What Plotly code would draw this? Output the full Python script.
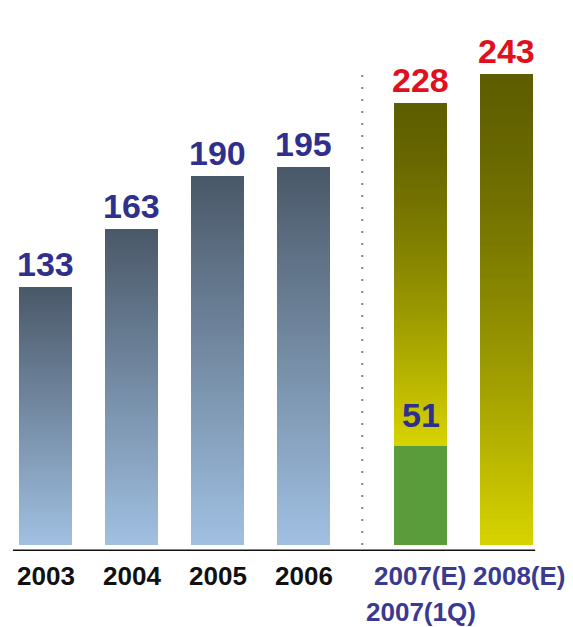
import plotly.graph_objects as go

# ---- data ----
years = ["2003", "2004", "2005", "2006", "2007(E)", "2008(E)"]
values = [133, 163, 190, 195, 228, 243]
is_forecast = [False, False, False, False, True, True]
q1_year = "2007(E)"
q1_label = "2007(1Q)"
q1_value = 51

# ---- style ----
FONT = "Liberation Sans, Arial, sans-serif"
SLATE_TOP = (74, 88, 104)
SLATE_BOT = (160, 192, 226)
OLIVE_TOP = (94, 94, 0)
OLIVE_BOT = (216, 212, 0)
GREEN = "#5a9b3c"
VAL_BLUE = "#2f2f8c"
VAL_RED = "#e0101c"
AXIS_BLUE = "#3a3a90"
BAR_W = 0.62
FORECAST_GAP = 0.36
N_SEG = 90

x_pos = [i + (FORECAST_GAP if f else 0) for i, f in enumerate(is_forecast)]
q1_idx = years.index(q1_year)
lows = [q1_value if i == q1_idx else 0 for i in range(len(years))]


def mix(a, b, t):
    return "rgb(%d,%d,%d)" % tuple(round(a[j] + (b[j] - a[j]) * t) for j in range(3))


fig = go.Figure()

# gradient-filled bars built from stacked slices of each bar's own value
for k in range(N_SEG):
    t0 = k / N_SEG
    t_end = min((k + 2) / N_SEG, 1.0)
    t_mid = (k + 0.5) / N_SEG
    bases, heights, colors = [], [], []
    for i in range(len(years)):
        lo, hi = lows[i], values[i]
        bases.append(lo + (hi - lo) * t0)
        heights.append((hi - lo) * (t_end - t0))
        if is_forecast[i]:
            u = 1 - t_mid
            colors.append(mix(OLIVE_TOP, OLIVE_BOT, u ** 1.4))
        else:
            colors.append(mix(SLATE_BOT, SLATE_TOP, t_mid))
    fig.add_trace(go.Bar(
        x=x_pos, y=heights, base=bases, width=BAR_W,
        marker=dict(color=colors, line=dict(width=0)),
        showlegend=False, hoverinfo="skip",
    ))

# 2007 first-quarter part
fig.add_trace(go.Bar(
    x=[x_pos[q1_idx]], y=[q1_value], base=[0], width=BAR_W,
    marker=dict(color=GREEN, line=dict(width=0)),
    showlegend=False, hoverinfo="skip",
))

annotations = []
# value labels
for i, (xv, v) in enumerate(zip(x_pos, values)):
    annotations.append(dict(
        x=xv, y=v, xref="x", yref="y", text="<b>%d</b>" % v,
        showarrow=False, yanchor="bottom", yshift=2,
        font=dict(family=FONT, size=34, color=VAL_RED if is_forecast[i] else VAL_BLUE),
    ))
annotations.append(dict(
    x=x_pos[q1_idx], y=q1_value, xref="x", yref="y", text="<b>%d</b>" % q1_value,
    showarrow=False, yanchor="bottom", yshift=10,
    font=dict(family=FONT, size=34, color=VAL_BLUE),
))

# category labels
for i, (xv, yr) in enumerate(zip(x_pos, years)):
    annotations.append(dict(
        x=xv, y=0, xref="x", yref="paper", text="<b>%s</b>" % yr,
        showarrow=False, yanchor="top", yshift=-8,
        xshift=13 if i == len(years) - 1 else 0,
        font=dict(family=FONT, size=26, color=AXIS_BLUE if is_forecast[i] else "#111111"),
    ))
annotations.append(dict(
    x=x_pos[q1_idx], y=0, xref="x", yref="paper", text="<b>%s</b>" % q1_label,
    showarrow=False, yanchor="top", yshift=-44,
    font=dict(family=FONT, size=26, color=AXIS_BLUE),
))

sep_x = (x_pos[3] + x_pos[4]) / 2
shapes = [
    dict(type="line", xref="x", yref="y", x0=sep_x, x1=sep_x, y0=0, y1=245,
         line=dict(color="#808080", width=2, dash="2px,10px")),
    dict(type="line", xref="x", yref="y", x0=x_pos[0] - 0.38, x1=x_pos[-1] + 0.33,
         y0=-2.8, y1=-2.8, line=dict(color="#111111", width=2)),
]

fig.update_layout(
    width=573, height=627, autosize=False,
    margin=dict(l=0, r=0, t=20, b=76),
    barmode="overlay", bargap=0,
    plot_bgcolor="white", paper_bgcolor="white",
    xaxis=dict(range=[-0.53, 6.13], visible=False, fixedrange=True),
    yaxis=dict(range=[-3.1, 270.6], visible=False, fixedrange=True),
    annotations=annotations, shapes=shapes,
    showlegend=False,
)

fig.write_html(
    "out.html",
    config={"displayModeBar": False},
    post_script="document.body.style.margin='0px';document.body.style.overflow='hidden';",
)
